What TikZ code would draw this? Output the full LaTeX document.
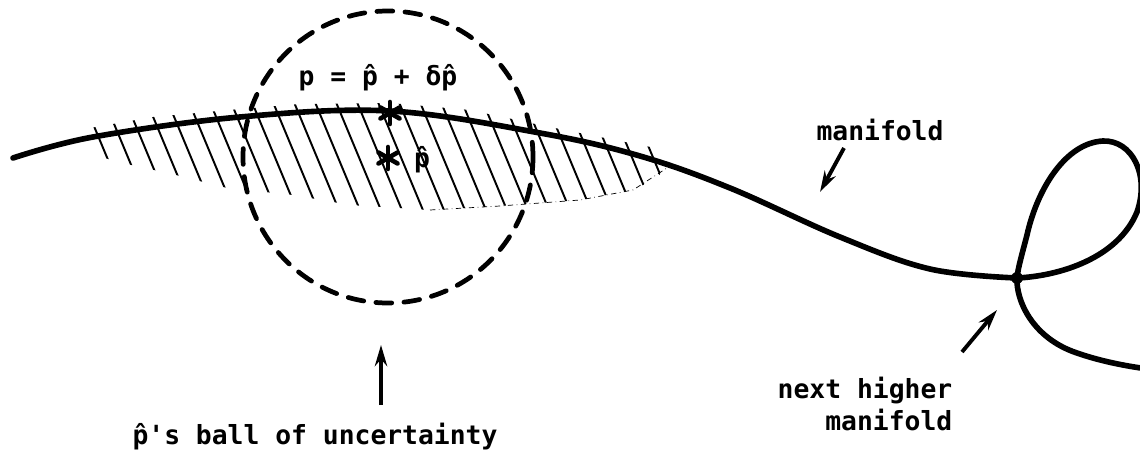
\documentclass[tikz,border=0pt]{standalone}
\usepackage{fontspec}
\setmonofont{DejaVu Sans Mono}
\usetikzlibrary{arrows.meta}

\begin{document}
\begin{tikzpicture}[x=0.02cm, y=-0.02cm,
          curve/.style={line width=3.2pt, line cap=round, line join=round},
          ball/.style={line width=2.7pt, dash pattern=on 9pt off 7pt, line cap=round},
          hatch/.style={line width=1.1pt},
          pointer/.style={line width=2.2pt, -{Stealth[length=12pt, width=7pt]}},
          lbl/.style={font=\fontsize{15}{18}\selectfont\ttfamily\bfseries, inner sep=1pt},
          astar/.style={line width=2.6pt, line cap=round},
        ]
        \useasboundingbox (0,0) rectangle (1140,453);
        % hatched region under the manifold
        \begin{scope}
          \clip (90,128) -- (153,117) -- (240,109) -- (300,104) -- (390,103) -- (470,110)
            -- (540,125) -- (640,145) -- (667,150) -- (667,165) -- (657,178) -- (633,190)
            -- (580,200) -- (500,206) -- (430,210) -- (350,205) -- (293,195) -- (227,188)
            -- (172,174) -- (127,164) -- (97,156) -- cycle;
          \foreach \x in {60,81,...,660}
            \draw[hatch] (\x,95) -- ++(50,120);
        \end{scope}
        \draw[thin, dash dot] (430,210) -- (500,206) -- (580,200) -- (633,190) -- (667,168);
        % manifold, crossing itself at the next higher manifold
        \coordinate (cross) at (1017,278);
        \draw[curve] plot[smooth, tension=0.6] coordinates {(13,158) (93,137) (240,117)
          (390,111) (540,133) (640,156) (730,188) (840,237) (930,269) (1017,278)};
        \draw[curve] (cross) .. controls (1060,276) and (1118,258) .. (1137,212)
          .. controls (1150,175) and (1132,140) .. (1103,141)
          .. controls (1065,143) and (1037,190) .. (1027,235)
          .. controls (1021,258) and (1018,268) .. (cross)
          .. controls (1016,300) and (1032,338) .. (1077,353)
          .. controls (1100,361) and (1125,366) .. (1148,369);
        \fill (cross) circle [radius=6];
        % ball of uncertainty
        \draw[ball] (388,157) ellipse [x radius=145, y radius=146];
        \coordinate (ptop) at (390,113);
        \coordinate (pest) at (388,158);
        \foreach \a in {90,30,-30} {
          \draw[astar] (ptop) ++(\a:11) -- ++(\a+180:22);
          \draw[astar] (pest) ++(\a:11) -- ++(\a+180:22);
        }
        \node[lbl] (formula) at (378,78) {p = p̂ + δp̂};
        \node[lbl, right] (phat) at (412,160) {p̂};
        \node[lbl] (mf) at (880,130) {manifold};
        \node[lbl, align=right] (nhm) at (865,404) {next higher\\manifold};
        \node[lbl] (ballname) at (315,437) {p̂'s ball of uncertainty};
        \coordinate (mftail) at (844,148);
        \coordinate (mfhead) at (820,192);
        \coordinate (nhtail) at (962,352);
        \coordinate (nhhead) at (997,310);
        \coordinate (btail) at (381,405);
        \coordinate (bhead) at (381,345);
        \draw[pointer] (mftail) -- (mfhead);
        \draw[pointer] (nhtail) -- (nhhead);
        \draw[pointer] (btail) -- (bhead);
      \end{tikzpicture}
\end{document}
